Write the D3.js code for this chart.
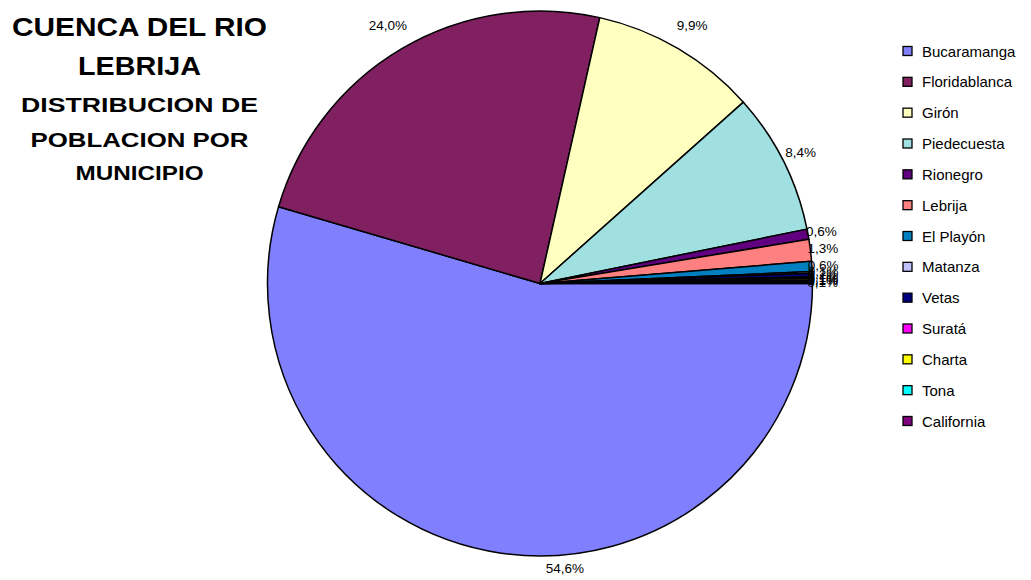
<!DOCTYPE html>
<html>
<head>
<meta charset="utf-8">
<script src="https://cdn.jsdelivr.net/npm/d3@7/dist/d3.min.js"></script>
<style>
  html, body { margin: 0; padding: 0; background: #ffffff; }
  svg { display: block; font-family: "Liberation Sans", Arial, sans-serif; }
</style>
</head>
<body>
<svg id="chart" width="1031" height="580"></svg>
<script>
// Population share (%) by municipality, Lebrija river basin
const municipios = ["Bucaramanga", "Floridablanca", "Girón", "Piedecuesta", "Rionegro",
  "Lebrija", "El Playón", "Matanza", "Vetas", "Suratá", "Charta", "Tona", "California"];
const poblacionPct = [54.6, 24.0, 9.9, 8.4, 0.6, 1.3, 0.6, 0.1, 0.2, 0.1, 0.1, 0.1, 0.1];
const colores = ["#8080FF", "#802060", "#FFFFC0", "#A0E0E0", "#600080", "#FF8080",
  "#0080C0", "#C0C0FF", "#000080", "#FF00FF", "#FFFF00", "#00FFFF", "#800080"];
const tituloLineas = ["CUENCA DEL RIO", "LEBRIJA", "DISTRIBUCION DE", "POBLACION POR", "MUNICIPIO"];

const svg = d3.select("#chart");
const cx = 540, cy = 283.5, R = 272.5;

const data = municipios.map((m, i) => ({ name: m, value: poblacionPct[i], color: colores[i] }));

// Slices run clockwise starting at 3 o'clock
const pie = d3.pie().sort(null).value(d => d.value)
  .startAngle(Math.PI / 2).endAngle(Math.PI / 2 + 2 * Math.PI);
const arc = d3.arc().innerRadius(0).outerRadius(R);
const arcs = pie(data);

const g = svg.append("g").attr("transform", `translate(${cx},${cy})`);
g.selectAll("path.slice").data(arcs).join("path")
  .attr("class", "slice")
  .attr("d", arc)
  .attr("fill", d => d.data.color)
  .attr("stroke", "#000")
  .attr("stroke-width", 1.5)
  .attr("stroke-linejoin", "round");

// Percentage labels just outside the rim
const fmt = v => v.toFixed(1).replace(".", ",") + "%";
const labelNudge = { "Bucaramanga": [68, -14] };
g.selectAll("text.pct").data(arcs).join("text")
  .attr("class", "pct")
  .each(function (d) {
    const a = (d.startAngle + d.endAngle) / 2;
    const r = R + 10 + 20 * Math.abs(Math.cos(a));
    const n = labelNudge[d.data.name] || [0, 0];
    d3.select(this)
      .attr("x", r * Math.sin(a) + n[0])
      .attr("y", -r * Math.cos(a) + n[1]);
  })
  .attr("text-anchor", "middle")
  .attr("dominant-baseline", "central")
  .attr("font-size", 13.5)
  .attr("fill", "#000")
  .text(d => fmt(d.data.value));

// Title block
const titleStyle = [
  { size: 25, y: 36, len: 255 },
  { size: 25, y: 75, len: 123 },
  { size: 21, y: 112, len: 237 },
  { size: 21, y: 147, len: 218 },
  { size: 21, y: 180, len: 128 }
];
svg.append("g").selectAll("text").data(tituloLineas).join("text")
  .attr("x", 139.5)
  .attr("y", (d, i) => titleStyle[i].y)
  .attr("text-anchor", "middle")
  .attr("font-weight", "bold")
  .attr("font-size", (d, i) => titleStyle[i].size)
  .attr("textLength", (d, i) => titleStyle[i].len)
  .attr("lengthAdjust", "spacingAndGlyphs")
  .attr("fill", "#000")
  .text(d => d);

// Legend
const legendY = d3.scalePoint().domain(municipios).range([51, 421]);
const leg = svg.append("g").selectAll("g").data(data).join("g")
  .attr("transform", d => `translate(903,${legendY(d.name)})`);
leg.append("rect")
  .attr("x", 0).attr("y", -4.5).attr("width", 9).attr("height", 9)
  .attr("fill", d => d.color)
  .attr("stroke", "#000").attr("stroke-width", 1.3);
leg.append("text")
  .attr("x", 19).attr("y", 0)
  .attr("dominant-baseline", "central")
  .attr("font-size", 15)
  .attr("fill", "#000")
  .text(d => d.name);
</script>
</body>
</html>
